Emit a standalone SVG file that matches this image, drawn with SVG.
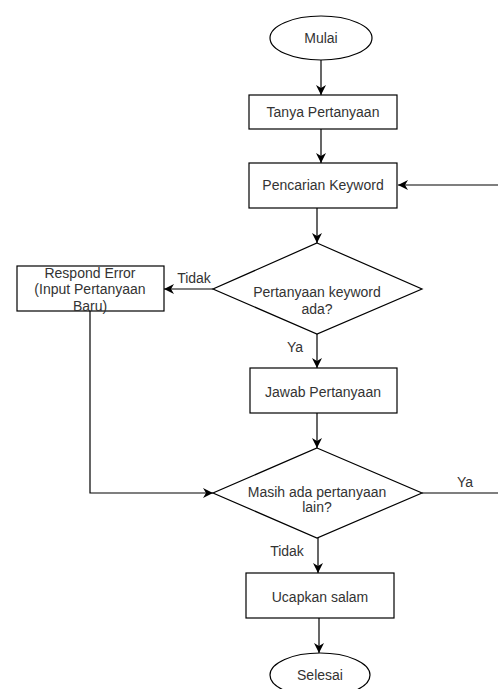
<svg xmlns="http://www.w3.org/2000/svg" width="498" height="689" viewBox="0 0 498 689">
<style>
.s{fill:#fff;stroke:#000;stroke-width:1.2}
.t{font-family:"Liberation Sans",Arial,sans-serif;font-size:14px;fill:#333;text-anchor:middle;dominant-baseline:central}
.c{fill:none;stroke:#000;stroke-width:1.2}
</style>
<defs>
<marker id="a" viewBox="0 0 10 10" refX="10" refY="5" markerWidth="10" markerHeight="10" markerUnits="userSpaceOnUse" orient="auto">
<path d="M0,0 L10,5 L0,10 L3,5 Z" fill="#000"/>
</marker>
</defs>
<rect width="498" height="689" fill="#fff"/>
<g id="connectors">
<path class="c" d="M321,60 V95" marker-end="url(#a)"/>
<path class="c" d="M321,129 V163" marker-end="url(#a)"/>
<path class="c" d="M505,185 H398" marker-end="url(#a)"/>
<path class="c" d="M317,208 V243" marker-end="url(#a)"/>
<path class="c" d="M213,289 H164" marker-end="url(#a)"/>
<path class="c" d="M317,334 V368" marker-end="url(#a)"/>
<path class="c" d="M317,413 V448" marker-end="url(#a)"/>
<path class="c" d="M90,311 V493 H213" marker-end="url(#a)"/>
<path class="c" d="M422,493 H505"/>
<path class="c" d="M318,538 V573" marker-end="url(#a)"/>
<path class="c" d="M319,618 V653" marker-end="url(#a)"/>
<text class="t" x="194" y="278">Tidak</text>
<text class="t" x="295" y="347">Ya</text>
<text class="t" x="465" y="482">Ya</text>
<text class="t" x="287" y="551">Tidak</text>
</g>
<g id="mulai">
<ellipse class="s" cx="321" cy="38" rx="51" ry="22"/>
<text class="t" x="321" y="38">Mulai</text>
</g>
<g id="tanya">
<rect class="s" x="249" y="95" width="148" height="34"/>
<text class="t" x="323" y="112">Tanya Pertanyaan</text>
</g>
<g id="pencarian">
<rect class="s" x="249" y="163" width="148" height="45"/>
<text class="t" x="323" y="185">Pencarian Keyword</text>
</g>
<g id="cek-keyword">
<polygon class="s" points="317,243 422,289 317,334 213,289"/>
<text class="t" x="317" y="292">Pertanyaan keyword</text>
<text class="t" x="317" y="309">ada?</text>
</g>
<g id="respond-error">
<rect class="s" x="17" y="266" width="147" height="45"/>
<text class="t" x="90" y="273">Respond Error</text>
<text class="t" x="90" y="289">(Input Pertanyaan</text>
<text class="t" x="90" y="306">Baru)</text>
</g>
<g id="jawab">
<rect class="s" x="250" y="368" width="147" height="45"/>
<text class="t" x="323" y="392">Jawab Pertanyaan</text>
</g>
<g id="masih">
<polygon class="s" points="317,448 422,493 317,538 213,493"/>
<text class="t" x="317" y="492">Masih ada pertanyaan</text>
<text class="t" x="317" y="507">lain?</text>
</g>
<g id="ucapkan">
<rect class="s" x="246" y="573" width="148" height="45"/>
<text class="t" x="320" y="597">Ucapkan salam</text>
</g>
<g id="selesai">
<ellipse class="s" cx="320" cy="675" rx="50" ry="22"/>
<text class="t" x="320" y="675">Selesai</text>
</g>
</svg>
